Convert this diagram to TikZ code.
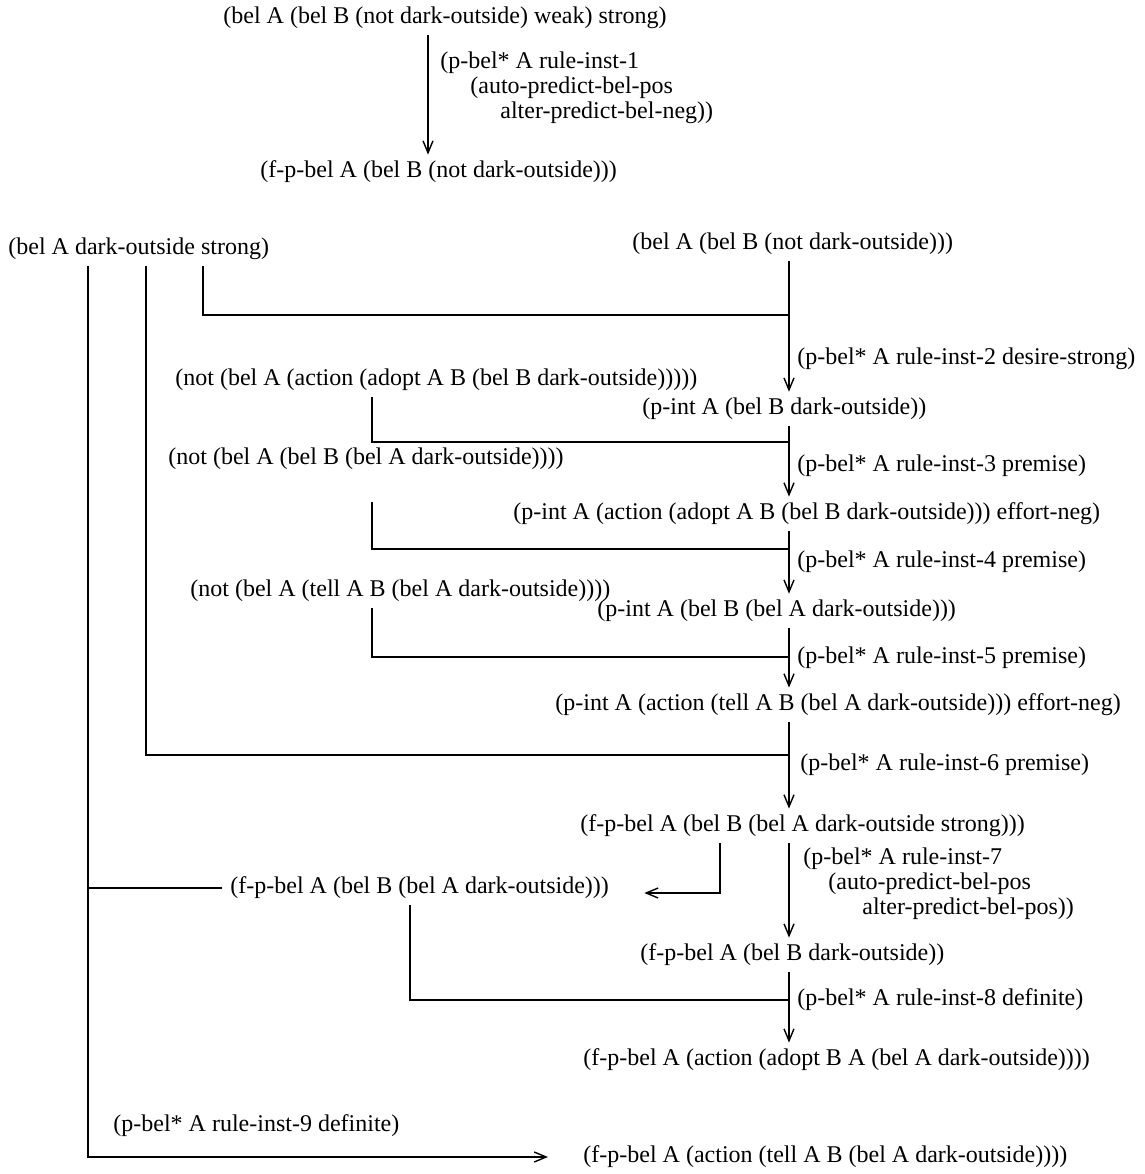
\documentclass[tikz,border=0pt]{standalone}
\usepackage{fontspec}
\setmainfont{Liberation Serif}
\usetikzlibrary{arrows.meta}

\begin{document}
\begin{tikzpicture}[x=0.5pt, y=-0.5pt,
	term/.style = {anchor = west, inner xsep = 4pt, inner ysep = 3pt, font = \fontsize{12}{12.5}\selectfont},
	rule/.style = {term, align = left},
	link/.style = {line width = 0.7pt},
	arr/.style = {link, -{Straight Barb[length = 6pt, width = 5pt]}}]
\useasboundingbox (0,0) rectangle (1145,1174);

% first derivation
\node[term] (w0) at (215,18) {(bel A (bel B (not dark-outside) weak) strong)};
\node[term] (w1) at (252,172) {(f-p-bel A (bel B (not dark-outside)))};
\node[rule] (r1) at (432,88) {(p-bel* A rule-inst-1\\ \hspace*{15pt}(auto-predict-bel-pos\\ \hspace*{30pt}alter-predict-bel-neg))};
\coordinate (top) at (428,0);
\draw[arr] (w0.south -| top) -- (w1.north -| top);

% second derivation
\node[term] (a0) at (0,249) {(bel A dark-outside strong)};
\node[term] (b0) at (624,244) {(bel A (bel B (not dark-outside)))};
\node[term] (n1) at (167,380) {(not (bel A (action (adopt A B (bel B dark-outside)))))};
\node[term] (c1) at (634,409) {(p-int A (bel B dark-outside))};
\node[term] (n2) at (160,459) {(not (bel A (bel B (bel A dark-outside))))};
\node[term] (c2) at (505,514) {(p-int A (action (adopt A B (bel B dark-outside))) effort-neg)};
\node[term] (n3) at (182,591) {(not (bel A (tell A B (bel A dark-outside))))};
\node[term] (c3) at (589,611) {(p-int A (bel B (bel A dark-outside)))};
\node[term] (c4) at (547,705) {(p-int A (action (tell A B (bel A dark-outside))) effort-neg)};
\node[term] (c5) at (572,826) {(f-p-bel A (bel B (bel A dark-outside strong)))};
\node[term] (d1) at (222,888) {(f-p-bel A (bel B (bel A dark-outside)))};
\node[term] (c6) at (632,955) {(f-p-bel A (bel B dark-outside))};
\node[term] (c7) at (575,1060) {(f-p-bel A (action (adopt B A (bel A dark-outside))))};
\node[term] (c8) at (575,1157) {(f-p-bel A (action (tell A B (bel A dark-outside))))};

% rule labels
\node[term] (r2) at (789,359) {(p-bel* A rule-inst-2 desire-strong)};
\node[term] (r3) at (789,466) {(p-bel* A rule-inst-3 premise)};
\node[term] (r4) at (789,562) {(p-bel* A rule-inst-4 premise)};
\node[term] (r5) at (789,658) {(p-bel* A rule-inst-5 premise)};
\node[term] (r6) at (792,765) {(p-bel* A rule-inst-6 premise)};
\node[rule] (r7) at (795,884) {(p-bel* A rule-inst-7\\ \hspace*{12.5pt}(auto-predict-bel-pos\\ \hspace*{29.5pt}alter-predict-bel-pos))};
\node[term] (r8) at (789,1000) {(p-bel* A rule-inst-8 definite)};
\node[term] (r9) at (105,1126) {(p-bel* A rule-inst-9 definite)};

\coordinate (spine) at (789,0);
\coordinate (xa) at (88,0);
\coordinate (xb) at (146,0);
\coordinate (xc) at (203,0);
\coordinate (xn) at (372,0);
\coordinate (xd) at (720,0);
\coordinate (xe) at (410,0);
\coordinate (j1) at (789,315);
\coordinate (j2) at (789,442);
\coordinate (j3) at (789,549);
\coordinate (j4) at (789,657);
\coordinate (j5) at (789,755);
\coordinate (j6) at (789,1000);

\foreach \a/\b in {b0/c1, c1/c2, c2/c3, c3/c4, c4/c5, c5/c6, c6/c7}
	\draw[arr] (\a.south -| spine) -- (\b.north -| spine);

\foreach \n/\j/\s in {n1/j2/0pt, n2/j3/13pt, n3/j4/0pt}
	\draw[link, shorten <= \s] (\n.south -| xn) |- (\j);

\draw[link] (a0.south -| xc) |- (j1);
\draw[link] (a0.south -| xb) |- (j5);
\draw[arr, shorten >= 13.5pt] (c5.south -| xd) |- ([yshift=-2.5pt]d1.east);
\draw[link] (d1.south -| xe) |- (j6);
\draw[link] (d1.west -| xa) -- (d1.west);
\draw[arr, shorten >= 13.5pt] (a0.south -| xa) |- (c8.west);
\end{tikzpicture}
\end{document}
